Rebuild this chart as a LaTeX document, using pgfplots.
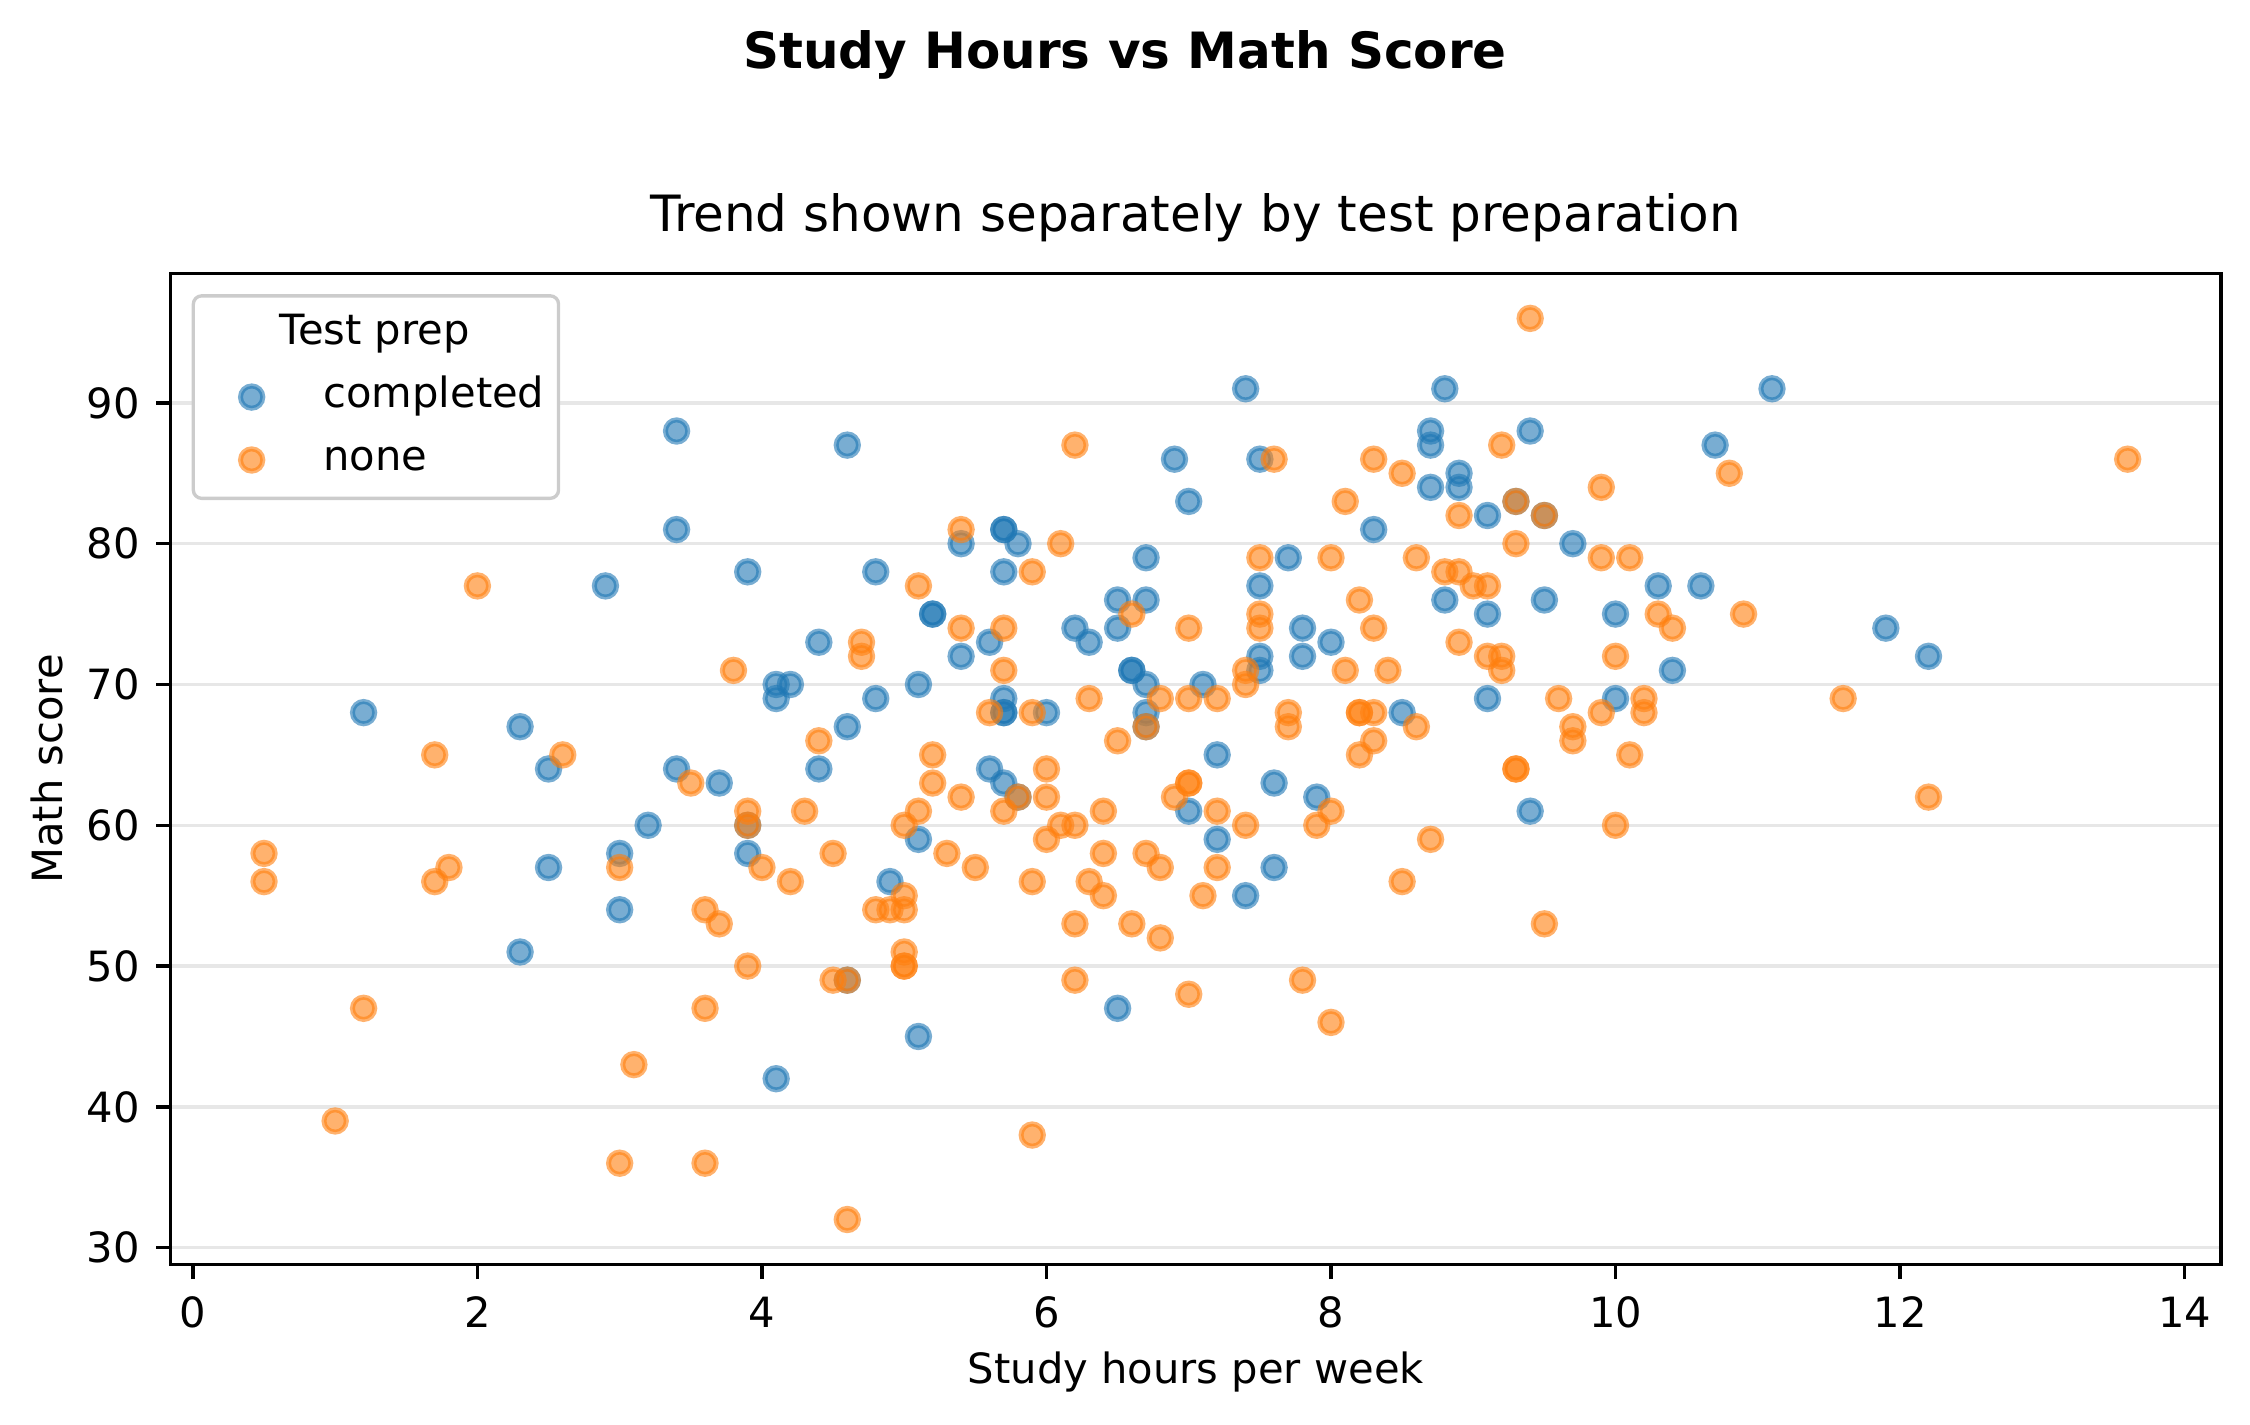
\documentclass[border=0pt]{standalone}
\usepackage{fontspec}
\setmainfont{DejaVu Sans}
\usepackage{pgfplots}
\pgfplotsset{compat=1.18}
\definecolor{tabblue}{RGB}{31,119,180}
\definecolor{taborange}{RGB}{255,127,14}

\begin{document}
\begin{tikzpicture}
\useasboundingbox (-41pt,-38.5pt) rectangle (499pt,303.5pt);
\node[anchor=base, inner sep=0pt, font=\bfseries\fontsize{12}{14.4}\selectfont] at (229pt,287.1pt) {Study Hours vs Math Score};
\begin{axis}[
  at={(0pt,0pt)}, anchor=south west,
  scale only axis, width=492pt, height=237.9pt,
  xmin=-0.155, xmax=14.255, ymin=28.8, ymax=99.2,
  xtick={0,2,...,14}, ytick={30,40,...,90},
  tick pos=left, tick align=outside,
  major tick length=3.5pt,
  tick style={black, line width=0.8pt},
  axis line style={line width=0.8pt},
  ymajorgrids,
  grid style={color=black!31, draw opacity=0.3, line width=0.8pt},
  axis on top,
  /pgf/number format/assume math mode=true,
  ticklabel style={font=\fontsize{10}{12}\selectfont},
  xticklabel style={inner sep=0pt, anchor=north},
  yticklabel style={inner sep=0pt, anchor=east},
  xticklabel shift=4pt,
  yticklabel shift=3.7pt,
  title={Trend shown separately by test preparation},
  title style={at={(axis description cs:0.5,1)}, anchor=base, yshift=4pt, inner sep=0pt, font=\fontsize{12}{14.4}\selectfont},
  xlabel={Study hours per week},
  xlabel style={at={(axis description cs:0.5,-0.1202)}, anchor=base, inner sep=0pt, font=\fontsize{10}{12}\selectfont},
  ylabel={Math score},
  ylabel style={at={(axis description cs:-0.05285,0.5)}, anchor=base, inner sep=0pt, font=\fontsize{10}{12}\selectfont},
  legend style={at={(axis description cs:0.01016,0.97898)}, anchor=north west,
    draw=black!20, line width=0.8pt, rounded corners=2pt, fill=white,
    inner xsep=3.4pt, inner ysep=4.2pt, row sep=5.1pt, column sep=6.6pt,
    font=\fontsize{10}{12}\selectfont,
    nodes={inner sep=0pt, text height=7.5pt, text depth=2.5pt}},
  legend cell align=left,
  legend image code/.code={\path[draw=none,fill=none] (0pt,0pt) -- (21.2pt,0pt); \draw[#1] plot coordinates {(10.6pt,0pt)};},
]
\addlegendimage{empty legend}
\addlegendentry{\hspace*{-10.5pt}Test prep}

\addplot[only marks, mark=*, mark size=2.68pt,
  mark options={solid, line width=1.2pt, draw=tabblue, fill=tabblue, draw opacity=0.6, fill opacity=0.6}]
table {
x y
1.2 68
2.3 67
2.3 51
2.5 64
2.5 57
2.9 77
3.0 58
3.0 54
3.2 60
3.4 88
3.4 81
3.4 64
3.7 63
3.9 78
3.9 60
3.9 58
4.1 70
4.1 69
4.1 42
4.2 70
4.4 73
4.4 64
4.6 87
4.6 67
4.6 49
4.8 78
4.8 69
4.9 56
5.1 70
5.1 59
5.1 45
5.2 75
5.2 75
5.4 80
5.4 72
5.6 73
5.6 64
5.7 81
5.7 81
5.7 78
5.7 69
5.7 68
5.7 68
5.7 63
5.8 80
5.8 62
6.0 68
6.2 74
6.3 73
6.5 76
6.5 74
6.5 47
6.6 71
6.6 71
6.7 79
6.7 76
6.7 70
6.7 68
6.7 67
6.9 86
7.0 83
7.0 61
7.1 70
7.2 65
7.2 59
7.4 91
7.4 55
7.5 86
7.5 77
7.5 72
7.5 71
7.6 63
7.6 57
7.7 79
7.8 74
7.8 72
7.9 62
8.0 73
8.3 81
8.5 68
8.7 88
8.7 87
8.7 84
8.8 91
8.8 76
8.9 85
8.9 84
9.1 82
9.1 75
9.1 69
9.3 83
9.4 88
9.4 61
9.5 82
9.5 76
9.7 80
10.0 75
10.0 69
10.3 77
10.4 71
10.6 77
10.7 87
11.1 91
11.9 74
12.2 72
};
\addlegendentry{completed}

\addplot[only marks, mark=*, mark size=2.68pt,
  mark options={solid, line width=1.2pt, draw=taborange, fill=taborange, draw opacity=0.6, fill opacity=0.6}]
table {
x y
0.5 58
0.5 56
1.0 39
1.2 47
1.7 65
1.7 56
1.8 57
2.0 77
2.6 65
3.0 57
3.0 36
3.1 43
3.5 63
3.6 54
3.6 47
3.6 36
3.7 53
3.8 71
3.9 61
3.9 60
3.9 50
4.0 57
4.2 56
4.3 61
4.4 66
4.5 58
4.5 49
4.6 49
4.6 32
4.7 73
4.7 72
4.8 54
4.9 54
5.0 60
5.0 55
5.0 54
5.0 51
5.0 50
5.0 50
5.1 77
5.1 61
5.2 65
5.2 63
5.3 58
5.4 81
5.4 74
5.4 62
5.5 57
5.6 68
5.7 74
5.7 71
5.7 61
5.8 62
5.9 78
5.9 68
5.9 56
5.9 38
6.0 64
6.0 62
6.0 59
6.1 80
6.1 60
6.2 87
6.2 60
6.2 53
6.2 49
6.3 69
6.3 56
6.4 61
6.4 58
6.4 55
6.5 66
6.6 75
6.6 53
6.7 67
6.7 58
6.8 69
6.8 57
6.8 52
6.9 62
7.0 74
7.0 69
7.0 63
7.0 63
7.0 48
7.1 55
7.2 69
7.2 61
7.2 57
7.4 71
7.4 70
7.4 60
7.5 79
7.5 75
7.5 74
7.6 86
7.7 68
7.7 67
7.8 49
7.9 60
8.0 79
8.0 61
8.0 46
8.1 83
8.1 71
8.2 76
8.2 68
8.2 68
8.2 65
8.3 86
8.3 74
8.3 68
8.3 66
8.4 71
8.5 85
8.5 56
8.6 79
8.6 67
8.7 59
8.8 78
8.9 82
8.9 78
8.9 73
9.0 77
9.1 77
9.1 72
9.2 87
9.2 72
9.2 71
9.3 83
9.3 80
9.3 64
9.3 64
9.4 96
9.5 82
9.5 53
9.6 69
9.7 67
9.7 66
9.9 84
9.9 79
9.9 68
10.0 72
10.0 60
10.1 79
10.1 65
10.2 69
10.2 68
10.3 75
10.4 74
10.8 85
10.9 75
11.6 69
12.2 62
13.6 86
};
\addlegendentry{none}
\end{axis}
\end{tikzpicture}
\end{document}
